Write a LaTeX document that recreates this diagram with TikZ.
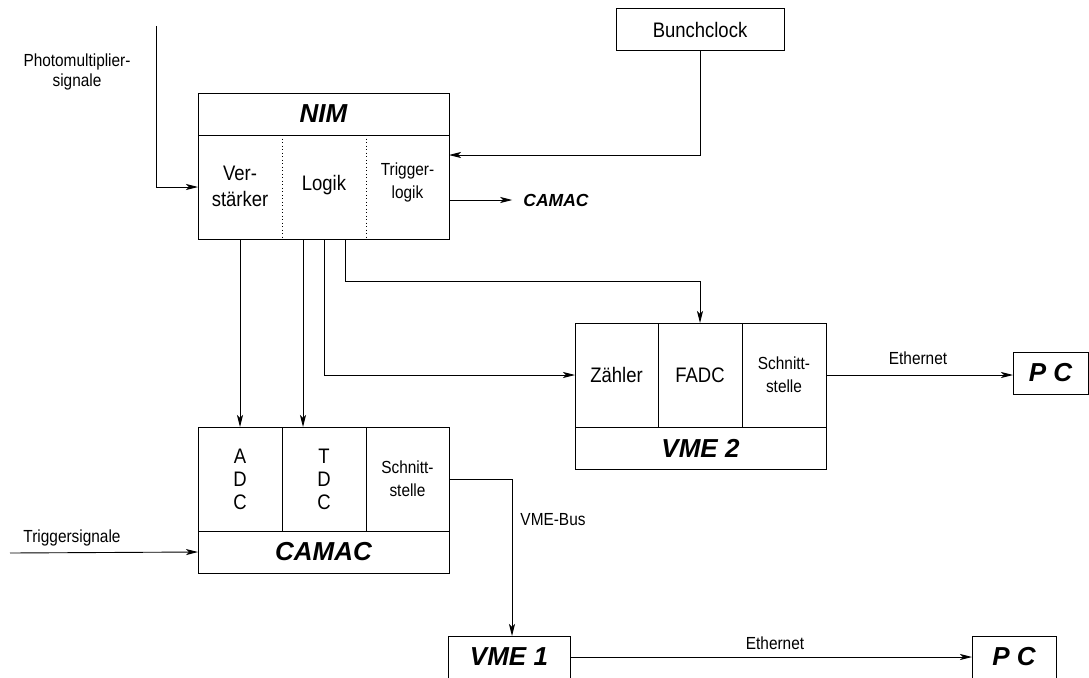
\documentclass[tikz,border=0pt]{standalone}
\usepackage{fontspec}
\setmainfont{Liberation Sans}[FakeStretch=0.88]
\newfontfamily\hdrfont{Liberation Sans}
\usetikzlibrary{arrows.meta,calc}
\tikzset{
  box/.style={draw, line width=1pt, inner sep=0pt, outer sep=0pt, anchor=north west},
  hdr/.style={font=\hdrfont\fontsize{26}{30}\selectfont\bfseries\itshape},
  bodytxt/.style={font=\fontsize{21}{26}\selectfont, align=center, inner sep=0pt},
  smalltxt/.style={font=\fontsize{17.5}{23}\selectfont, align=center, inner sep=0pt},
  conn/.style={line width=0.9pt, -{Stealth[length=12pt,width=6pt,inset=3pt]}},
  divider/.style={line width=0.9pt},
}
\begin{document}
\begin{tikzpicture}[x=1pt,y=-1pt]
\useasboundingbox (0,0) rectangle (1089,677);

% Bunchclock
\node[box, bodytxt, minimum width=168pt, minimum height=42pt] (bc) at (616,9) {Bunchclock};

% NIM
\node[box, hdr, minimum width=251pt, minimum height=42pt] (nim) at (198,93) {NIM};
\node[box, minimum width=251pt, minimum height=104pt] (nimbody) at (198,135) {};
\draw[line width=0.9pt, dash pattern=on 1pt off 2.5pt] (282,135) -- (282,239);
\draw[line width=0.9pt, dash pattern=on 1pt off 2.5pt] (366,135) -- (366,239);
\node[bodytxt] (nimv) at (240,186) {Ver-\\stärker};
\node[bodytxt] (niml) at (324,185) {Logik};
\node[smalltxt] (nimt) at (407.5,182) {Trigger-\\logik};

% CAMAC label right of NIM
\node[font=\hdrfont\fontsize{17.5}{21}\selectfont\bfseries\itshape, inner sep=0pt] (camlbl) at (556,200) {CAMAC};

% CAMAC
\node[box, minimum width=84pt, minimum height=104pt] (camA) at (198,427) {};
\node[box, minimum width=84pt, minimum height=104pt] (camT) at (282,427) {};
\node[box, minimum width=83pt, minimum height=104pt] (camS) at (366,427) {};
\node[box, hdr, minimum width=251pt, minimum height=42pt] (camhdr) at (198,531) {CAMAC};
\node[bodytxt, font=\fontsize{21}{23}\selectfont] (adc) at (camA.center) {A\\D\\C};
\node[bodytxt, font=\fontsize{21}{23}\selectfont] (tdc) at (camT.center) {T\\D\\C};
\node[smalltxt] (camst) at (camS.center) {Schnitt-\\stelle};

% VME 2
\node[box, minimum width=83pt, minimum height=104pt] (vmez) at (575,323) {};
\node[box, minimum width=84pt, minimum height=104pt] (vmef) at (658,323) {};
\node[box, minimum width=84pt, minimum height=104pt] (vmes) at (742,323) {};
\node[box, hdr, minimum width=251pt, minimum height=42pt] (vme2) at (575,427) {VME 2};
\node[bodytxt] (zaehler) at (vmez.center) {Zähler};
\node[bodytxt] (fadc) at (vmef.center) {FADC};
\node[smalltxt] (vmest) at (vmes.center) {Schnitt-\\stelle};

% PCs and VME 1
\node[box, hdr, minimum width=75pt, minimum height=42pt] (pc1) at (1013,352) {P C};
\node[box, hdr, minimum width=122pt, minimum height=42pt] (vme1) at (448,636) {VME 1};
\node[box, hdr, minimum width=84pt, minimum height=42pt] (pc2) at (972,636) {P C};

% free labels
\node[smalltxt, font=\fontsize{17.5}{20}\selectfont] (pmlbl) at (77,72) {Photomultiplier-\\signale};
\node[smalltxt] (trslbl) at (72,538) {Triggersignale};
\node[smalltxt] (eth1) at (918,358) {Ethernet};
\node[smalltxt] (eth2) at (775,643) {Ethernet};
\node[smalltxt] (vmebus) at (553,520) {VME-Bus};

\coordinate (pmtop) at (156,26);
\coordinate (trs) at (10,553);

% connectors
\draw[conn] (pmtop) |- (nimbody.west);
\draw[conn] (bc.south) |- ($(nimbody.north east)+(0,20)$);
\draw[conn] (nimbody.east |- camlbl) -- ([xshift=-11pt]camlbl.west);
\draw[conn] (camA.north |- nimbody.south) -- (camA.north);
\draw[conn] ([xshift=-21pt]camT.north |- nimbody.south) -- ([xshift=-21pt]camT.north);
\draw[conn] (niml.center |- nimbody.south) |- (vmez.west);
\draw[conn] ([xshift=21pt]niml.center |- nimbody.south) -- ++(0,42) -| (vmef.north);
\draw[conn] (vmes.east) -- (vmes.east -| pc1.west);
\draw[conn] (camS.east) -| ([xshift=3pt]vme1.north);
\draw[conn] (vme1.east) -- (pc2.west);
\draw[conn] (trs) -- (camhdr.west);
\end{tikzpicture}
\end{document}
